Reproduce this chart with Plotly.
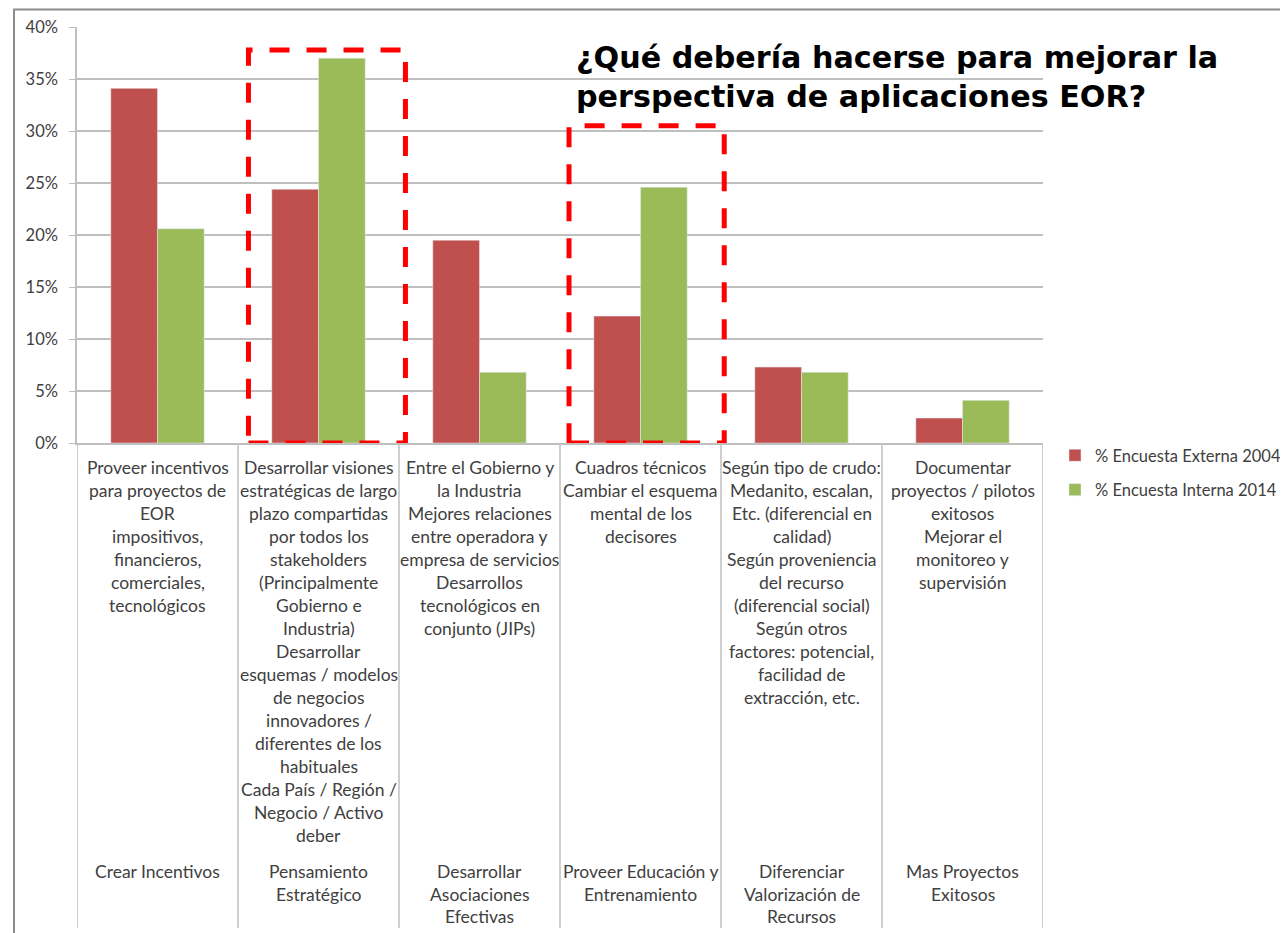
import plotly.graph_objects as go

# Data
groups = ['Crear Incentivos', 'Pensamiento<br>Estratégico',
          'Desarrollar<br>Asociaciones<br>Efectivas',
          'Proveer Educación y<br>Entrenamiento',
          'Diferenciar<br>Valorización de<br>Recursos',
          'Mas Proyectos<br>Exitosos']
details = [
    'Proveer incentivos<br>para proyectos de<br>EOR<br>impositivos,<br>financieros,<br>comerciales,<br>tecnológicos',
    'Desarrollar visiones<br>estratégicas de largo<br>plazo compartidas<br>por todos los<br>stakeholders<br>'
    '(Principalmente<br>Gobierno e<br>Industria)<br>Desarrollar<br>esquemas / modelos<br>de negocios<br>'
    'innovadores /<br>diferentes de los<br>habituales<br>Cada País / Región /<br>Negocio / Activo<br>deber',
    'Entre el Gobierno y<br>la Industria<br>Mejores relaciones<br>entre operadora y<br>empresa de servicios<br>'
    'Desarrollos<br>tecnológicos en<br>conjunto (JIPs)',
    'Cuadros técnicos<br>Cambiar el esquema<br>mental de los<br>decisores',
    'Según tipo de crudo:<br>Medanito, escalan,<br>Etc. (diferencial en<br>calidad)<br>Según proveniencia<br>'
    'del recurso<br>(diferencial social)<br>Según otros<br>factores: potencial,<br>facilidad de<br>extracción, etc.',
    'Documentar<br>proyectos / pilotos<br>exitosos<br>Mejorar el<br>monitoreo y<br>supervisión',
]
externa_2004 = [0.341, 0.244, 0.195, 0.122, 0.073, 0.024]
interna_2014 = [0.206, 0.370, 0.068, 0.246, 0.068, 0.041]
series_names = ['% Encuesta Externa 2004', '% Encuesta Interna 2014']
title_text = '<b>¿Qué debería hacerse para mejorar la<br>perspectiva de aplicaciones EOR?</b>'

RED = '#C0504D'
GREEN = '#9BBB59'
TXT = '#404040'
GRID = '#BFBFBF'
FONT = 'Lato'

# pixel helpers (screen rows of the plot area: 27..443, columns 77..1043)
PLOT_TOP, PLOT_BOTTOM = 27, 443
PLOT_LEFT, PLOT_RIGHT = 77, 1043


def py(pix):
    """Convert a screen row to paper y."""
    return (PLOT_BOTTOM - pix) / (PLOT_BOTTOM - PLOT_TOP)


def px(pix):
    """Convert a screen column to paper x."""
    return (pix - PLOT_LEFT) / (PLOT_RIGHT - PLOT_LEFT)


x = list(range(len(groups)))
fig = go.Figure()
fig.add_trace(go.Bar(x=x, y=externa_2004, name=series_names[0], marker_color=RED,
                     legendgroup='a'))
fig.add_trace(go.Bar(x=x, y=interna_2014, name=series_names[1], marker_color=GREEN,
                     legendgroup='b'))

annotations = []
# detail labels, one annotation per line so spacing matches
for i, txt in enumerate(details):
    for j, line in enumerate(txt.split('<br>')):
        annotations.append(dict(x=i, y=py(467 + 23 * j), xref='x', yref='paper', text=line,
                                showarrow=False, yanchor='middle', xanchor='center',
                                font=dict(family=FONT, size=17.5, color=TXT)))
for i, txt in enumerate(groups):
    for j, line in enumerate(txt.split('<br>')):
        annotations.append(dict(x=i, y=py(871 + 23 * j), xref='x', yref='paper', text=line,
                                showarrow=False, yanchor='middle', xanchor='center',
                                font=dict(family=FONT, size=17.5, color=TXT)))
annotations.append(dict(x=px(574), y=py(37.5), xref='paper', yref='paper', text=title_text,
                        showarrow=False, xanchor='left', yanchor='top', align='left',
                        font=dict(family='DejaVu Sans', size=30.2, color='black')))

shapes = []
# category dividers below the axis
for k in range(len(groups) + 1):
    shapes.append(dict(type='line', xref='x', yref='paper', x0=k - 0.5, x1=k - 0.5,
                       y0=0, y1=py(928), line=dict(color=GRID, width=1.5)))
# red dashed highlight boxes
for x0, x1, top in [(0.565, 1.54, 0.378), (2.556, 3.52, 0.305)]:
    shapes.append(dict(type='rect', xref='x', yref='y', x0=x0, x1=x1, y0=0, y1=top,
                       line=dict(color='#FF0000', width=5, dash='20px,17px')))
# outer frame
shapes.append(dict(type='rect', xref='paper', yref='paper', x0=px(14), x1=1.3,
                   y0=py(1000), y1=py(9.5), line=dict(color='#8C8C8C', width=2), layer='below'))

fig.update_layout(
    width=1288, height=933,
    # the page body adds an 8px offset, so margins are 8px smaller than screen positions
    margin=dict(l=PLOT_LEFT - 8, r=1288 - PLOT_RIGHT + 8, t=PLOT_TOP - 8, b=933 - PLOT_BOTTOM + 8,
                autoexpand=False),
    paper_bgcolor='white', plot_bgcolor='white',
    barmode='group', bargap=0.42, bargroupgap=0,
    showlegend=True,
    legend=dict(x=px(1055), y=py(438), xanchor='left', yanchor='top',
                font=dict(family=FONT, size=16.5, color=TXT), tracegroupgap=10,
                bgcolor='rgba(0,0,0,0)'),
    xaxis=dict(range=[-0.5, 5.5], showticklabels=False, showgrid=False, zeroline=False,
               showline=True, linecolor=GRID, linewidth=1.5, ticks=''),
    yaxis=dict(range=[0, 0.4], dtick=0.05, tickformat='.0%', showgrid=True, gridcolor=GRID,
               gridwidth=1.5, zeroline=False, showline=True, linecolor=GRID, linewidth=1.5,
               ticks='outside', ticklen=6, tickcolor=GRID, ticklabelstandoff=8,
               tickfont=dict(family=FONT, size=16.5, color=TXT)),
    annotations=annotations,
    shapes=shapes,
)

fig.write_html('out.html')
